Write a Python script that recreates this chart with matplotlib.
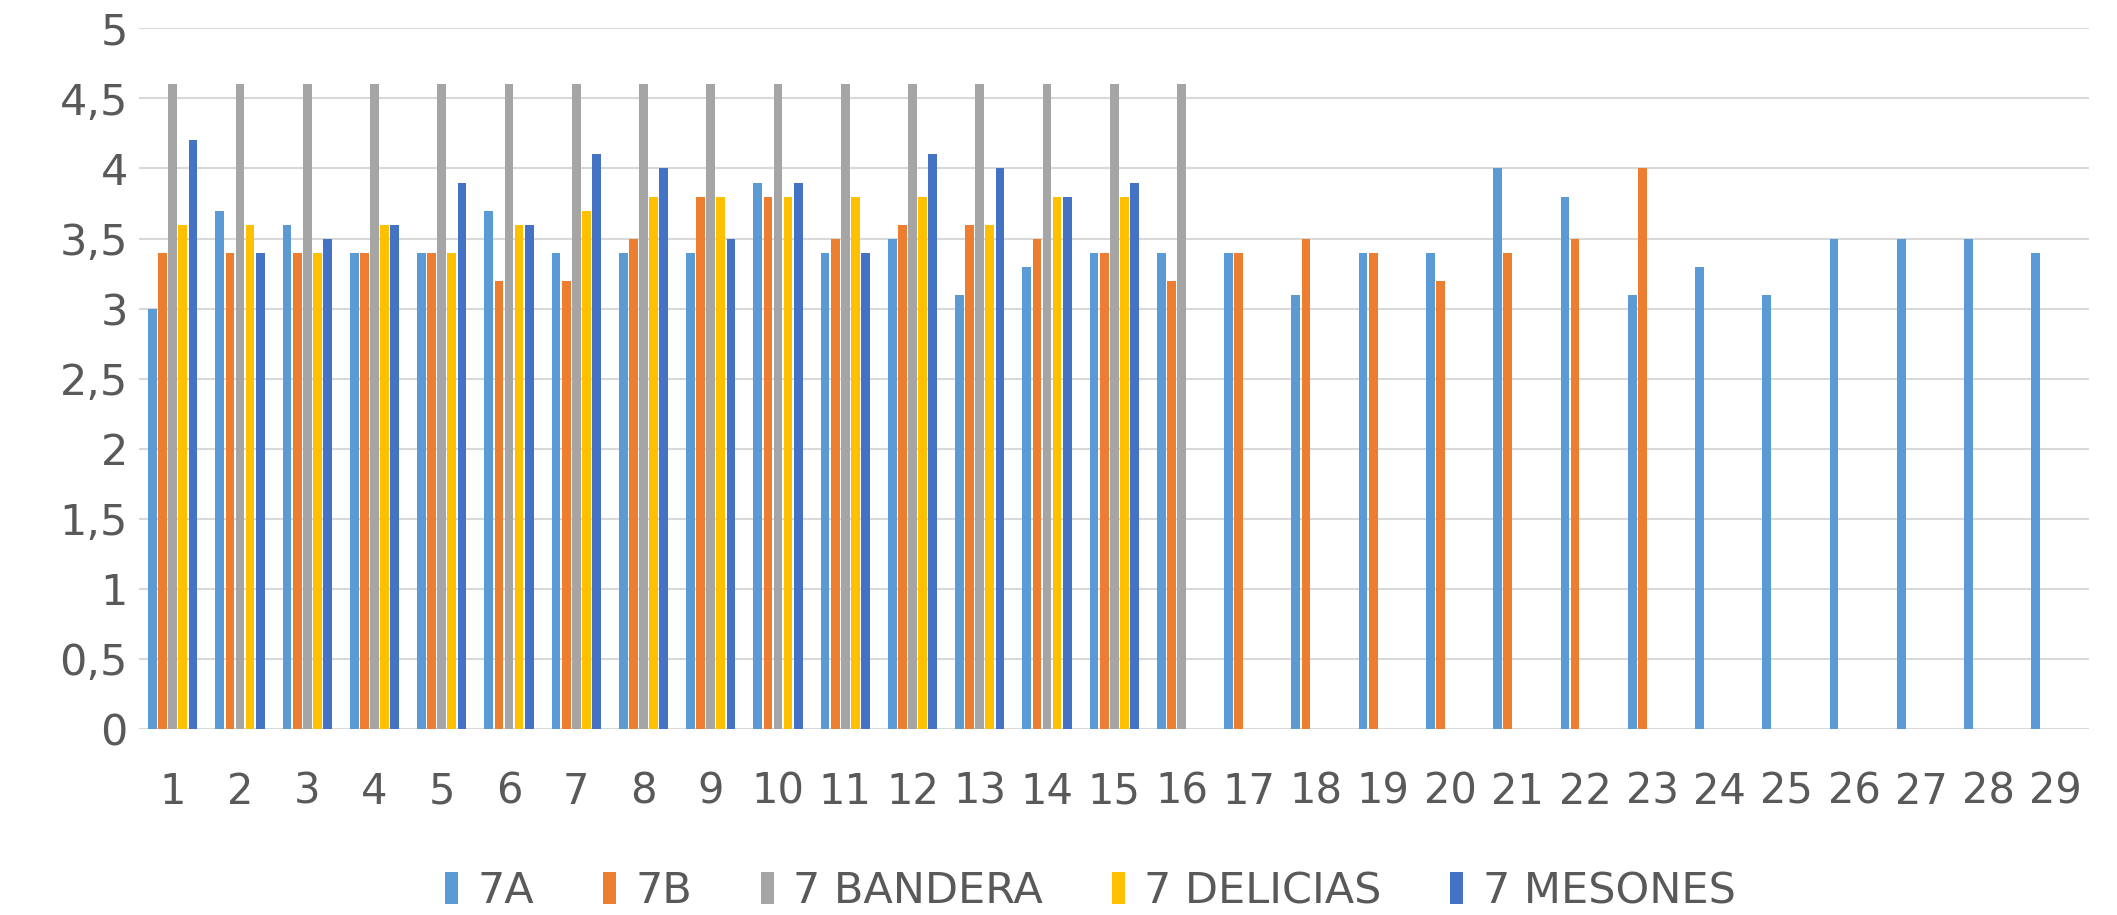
import numpy as np
import matplotlib
matplotlib.use('Agg')
import matplotlib.pyplot as plt

# categories 1..29
cats = list(range(1, 30))
nan = np.nan

s_7a = [3.0, 3.7, 3.6, 3.4, 3.4, 3.7, 3.4, 3.4, 3.4, 3.9, 3.4, 3.5, 3.1, 3.3, 3.4,
        3.4, 3.4, 3.1, 3.4, 3.4, 4.0, 3.8, 3.1, 3.3, 3.1, 3.5, 3.5, 3.5, 3.4]
s_7b = [3.4, 3.4, 3.4, 3.4, 3.4, 3.2, 3.2, 3.5, 3.8, 3.8, 3.5, 3.6, 3.6, 3.5, 3.4,
        3.2, 3.4, 3.5, 3.4, 3.2, 3.4, 3.5, 4.0, nan, nan, nan, nan, nan, nan]
s_bandera = [4.6] * 16 + [nan] * 13
s_delicias = [3.6, 3.6, 3.4, 3.6, 3.4, 3.6, 3.7, 3.8, 3.8, 3.8, 3.8, 3.8, 3.6, 3.8, 3.8] + [nan] * 14
s_mesones = [4.2, 3.4, 3.5, 3.6, 3.9, 3.6, 4.1, 4.0, 3.5, 3.9, 3.4, 4.1, 4.0, 3.8, 3.9] + [nan] * 14

names = ['7A', '7B', '7 BANDERA', '7 DELICIAS', '7 MESONES']
colors = ['#5B9BD5', '#ED7D31', '#A5A5A5', '#FFC000', '#4472C4']
series = [s_7a, s_7b, s_bandera, s_delicias, s_mesones]

plt.rcParams['font.family'] = ['DejaVu Sans']

fig = plt.figure(figsize=(21.17, 9.15), dpi=100)
ax = fig.add_axes([0.0657, 0.2033, 0.9213, 0.7657])

x = np.arange(len(cats))
slot = 0.15
for i in range(len(series)):
    off = (i - 2) * slot
    ax.bar(x + off, series[i], width=0.13, color=colors[i], label=names[i], zorder=3)

ax.set_xlim(-0.5, len(cats) - 0.5)
ax.set_ylim(0, 5)
ax.set_yticks(np.arange(0, 5.01, 0.5))
ax.set_yticklabels([('%g' % v).replace('.', ',') for v in np.arange(0, 5.01, 0.5)])
ax.set_xticks(x)
ax.set_xticklabels([str(c) for c in cats])
ax.grid(axis='y', color='#D9D9D9', linewidth=1.5, zorder=0)
for sp in ax.spines.values():
    sp.set_visible(False)
ax.tick_params(axis='both', length=0, labelsize=30, colors='#595959')
ax.tick_params(axis='y', labelsize=31, pad=8)
ax.tick_params(axis='x', pad=30)

fig.legend(loc='center', bbox_to_anchor=(0.515, 0.026), ncol=5, frameon=False,
           fontsize=31, labelcolor='#595959', handlelength=0.3, handleheight=0.75,
           handletextpad=0.45, columnspacing=1.6)

plt.savefig('out.png', dpi=100)
